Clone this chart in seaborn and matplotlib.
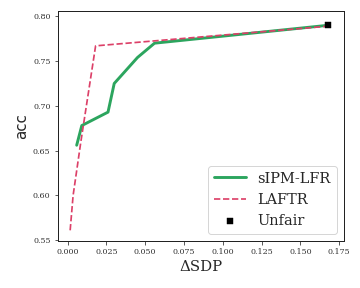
import matplotlib
matplotlib.use("Agg")
import matplotlib.pyplot as plt
import seaborn as sns
import pandas as pd

sns.set_style("ticks")

# sIPM-LFR trade-off curve
sipm_sdp = [0.0058, 0.0091, 0.026, 0.030, 0.045, 0.056, 0.168]
sipm_acc = [0.656, 0.678, 0.693, 0.725, 0.754, 0.770, 0.790]

# LAFTR trade-off curve
laftr_sdp = [0.0016, 0.0035, 0.0085, 0.018, 0.168]
laftr_acc = [0.561, 0.600, 0.660, 0.767, 0.789]

# unfair baseline
unfair_sdp = [0.168]
unfair_acc = [0.790]

green = "#2ca55e"
red = "#dc4068"

fig, ax = plt.subplots(figsize=(5, 4), dpi=72)

sns.lineplot(x=sipm_sdp, y=sipm_acc, ax=ax, color=green, linewidth=2.9,
             label="sIPM-LFR", sort=False)
sns.lineplot(x=laftr_sdp, y=laftr_acc, ax=ax, color=red, linewidth=1.7,
             linestyle="--", label="LAFTR", sort=False)
sns.scatterplot(x=unfair_sdp, y=unfair_acc, ax=ax, color="black", marker="s",
                s=30, edgecolor="black", label="Unfair", zorder=5)

ax.set_xlim(-0.0065, 0.178)
ax.set_ylim(0.549, 0.806)
ax.set_xticks([0.0, 0.025, 0.05, 0.075, 0.1, 0.125, 0.15, 0.175])
ax.set_xticklabels(["0.000", "0.025", "0.050", "0.075", "0.100", "0.125", "0.150", "0.175"])
ax.set_yticks([0.55, 0.60, 0.65, 0.70, 0.75, 0.80])
ax.set_yticklabels(["0.55", "0.60", "0.65", "0.70", "0.75", "0.80"])
for lab in ax.get_xticklabels() + ax.get_yticklabels():
    lab.set_family("DejaVu Serif")
    lab.set_fontsize(8)
ax.tick_params(colors="#333333", length=3.5, width=0.8)
for sp in ax.spines.values():
    sp.set_visible(True)
    sp.set_color("#222222")
    sp.set_linewidth(1.0)

ax.set_xlabel("ΔSDP", family="DejaVu Serif", fontsize=15, labelpad=4)
ax.set_ylabel("acc", family="DejaVu Sans", fontsize=15, labelpad=4)

leg = ax.legend(loc="lower right", prop={"family": "DejaVu Serif", "size": 14.5},
                handlelength=2.2, frameon=True)

fig.subplots_adjust(left=0.16, right=0.955, top=0.962, bottom=0.163)
fig.savefig("out.png", dpi=72)
